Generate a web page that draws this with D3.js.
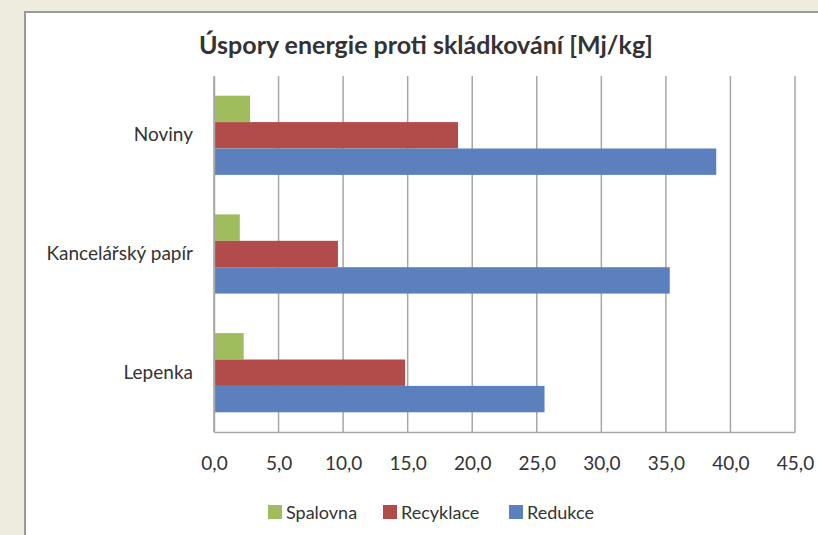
<!DOCTYPE html>
<html>
<head>
<meta charset="utf-8">
<script src="https://cdn.jsdelivr.net/npm/d3@7"></script>
<style>
  body { margin: 0; background: #eeebdf; }
  svg { display: block; font-family: Lato, "Open Sans", sans-serif; }
</style>
</head>
<body>
<svg id="chart" width="818" height="535"></svg>
<script>
// data
var categories = ["Noviny", "Kancelářský papír", "Lepenka"];
var seriesNames = ["Spalovna", "Recyklace", "Redukce"];
var spalovna = [2.8, 2.0, 2.3];
var recyklace = [18.9, 9.6, 14.8];
var redukce = [38.9, 35.3, 25.6];
var ticks = [0, 5, 10, 15, 20, 25, 30, 35, 40, 45];
var colours = ["#a0bd5e", "#b24c4a", "#5b80bd"];

var series = [spalovna, recyklace, redukce];
var margin = { left: 214, top: 76, right: 21, bottom: 103 };
var width = 818 - margin.left - margin.right,
    height = 535 - margin.top - margin.bottom;

var svg = d3.select("#chart");

// white panel with grey edge
svg.append("rect")
    .attr("x", 25).attr("y", 12)
    .attr("width", 820).attr("height", 540)
    .attr("fill", "#fff")
    .attr("stroke", "#9a9a9a")
    .attr("stroke-width", 2);

svg.append("text")
    .attr("x", 426).attr("y", 54)
    .attr("text-anchor", "middle")
    .attr("font-size", 25)
    .attr("font-weight", "bold")
    .attr("fill", "#333")
    .text("Úspory energie proti skládkování [Mj/kg]");

var g = svg.append("g")
    .attr("transform", "translate(" + margin.left + "," + margin.top + ")");

var x = d3.scaleLinear().domain([0, 45]).range([0, width - 2]);
var y = d3.scaleBand().domain(categories).range([0, height]).paddingInner(0.333).paddingOuter(0.166);
var ySub = d3.scaleBand().domain(seriesNames).range([0, y.bandwidth()]);

// gridlines
g.selectAll(".grid")
    .data(ticks)
    .enter().append("line")
    .attr("x1", d => x(d)).attr("x2", d => x(d))
    .attr("y1", 0).attr("y2", height)
    .attr("stroke", "#a6a6a6")
    .attr("stroke-width", 1.5);

// bars
series.forEach(function(vals, si) {
    g.selectAll(".bar" + si)
        .data(vals)
        .enter().append("rect")
        .attr("x", x(0))
        .attr("y", (d, i) => y(categories[i]) + ySub(seriesNames[si]))
        .attr("width", d => x(d) - x(0))
        .attr("height", ySub.bandwidth())
        .attr("fill", colours[si]);
});

// x axis
var xAxis = d3.axisBottom(x).tickValues(ticks).tickSize(0).tickPadding(25)
    .tickFormat(d => d3.format(".1f")(d).replace(".", ","));
g.append("g")
    .attr("transform", "translate(0," + height + ")")
    .call(xAxis)
    .call(a => a.select(".domain").attr("stroke", "#a6a6a6").attr("stroke-width", 1.5))
    .call(a => a.selectAll("text").attr("font-size", 19).attr("fill", "#333").attr("font-family", "Lato, sans-serif"));

// y axis
var yAxis = d3.axisLeft(y).tickSize(0).tickPadding(21);
g.append("g")
    .call(yAxis)
    .call(a => a.select(".domain").attr("stroke", "#a6a6a6").attr("stroke-width", 1.5))
    .call(a => a.selectAll("text").attr("font-size", 19).attr("fill", "#333").attr("font-family", "Lato, sans-serif"));

// legend
var legendX = [268, 383, 509];
var legend = svg.append("g").attr("transform", "translate(0,512)");
seriesNames.forEach(function(name, i) {
    var row = legend.append("g").attr("transform", "translate(" + legendX[i] + ",0)");
    row.append("rect")
        .attr("x", 0).attr("y", -7)
        .attr("width", 14).attr("height", 14)
        .attr("fill", colours[i]);
    row.append("text")
        .attr("x", 18).attr("y", 7)
        .attr("font-size", 18)
        .attr("fill", "#333")
        .text(name);
});
</script>
</body>
</html>
